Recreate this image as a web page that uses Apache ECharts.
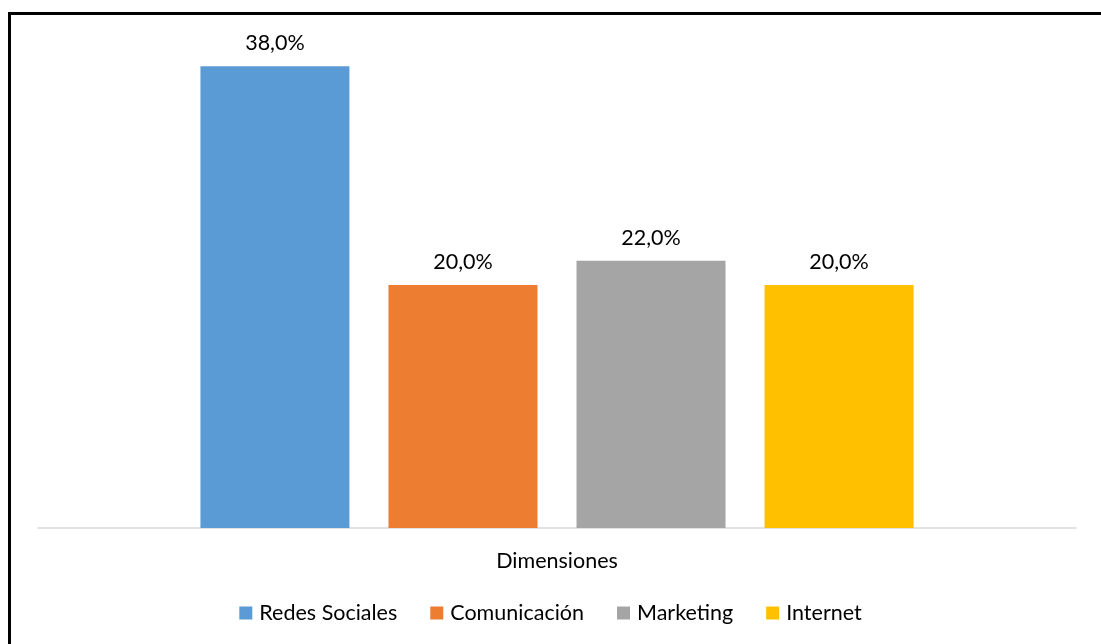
<!DOCTYPE html>
<html>
<head>
<meta charset="utf-8">
<script src="https://cdn.jsdelivr.net/npm/echarts@6/dist/echarts.min.js"></script>
<style>
  html, body { margin: 0; padding: 0; background: #fff; }
  #chart { width: 1101px; height: 644px; }
</style>
</head>
<body>
<div id="chart"></div>
<script>
// Share of each dimension (percent)
const categories = ['Dimensiones'];
const seriesNames = ['Redes Sociales', 'Comunicación', 'Marketing', 'Internet'];
const redesSociales = [38.0];
const comunicacion = [20.0];
const marketing = [22.0];
const internet = [20.0];
const seriesValues = [redesSociales, comunicacion, marketing, internet];
const colors = ['#5b9bd5', '#ed7d31', '#a5a5a5', '#ffc000'];

const FONT = 'Lato, "Open Sans", sans-serif';
const FS = 21.5;
const fmt = p => p.value.toFixed(1).replace('.', ',') + '%';

const chart = echarts.init(document.getElementById('chart'), null, { renderer: 'canvas' });
chart.setOption({
  animation: false,
  backgroundColor: '#ffffff',
  color: colors,
  textStyle: { fontFamily: FONT },
  graphic: [{
    type: 'rect',
    shape: { x: 9.5, y: 13.5, width: 1200, height: 700 },
    style: { fill: 'none', stroke: '#000', lineWidth: 3 },
    silent: true,
    z: 100
  }],
  grid: { left: 38, right: 25, top: 42, bottom: 116 },
  legend: {
    bottom: 15,
    left: 'center',
    itemWidth: 13,
    itemHeight: 13,
    itemGap: 33,
    icon: 'rect',
    textStyle: { fontFamily: FONT, fontSize: FS, color: '#000', padding: [0, 0, 0, 2] },
    data: seriesNames
  },
  xAxis: {
    type: 'category',
    data: categories,
    axisLine: { show: true, lineStyle: { color: '#d9d9d9', width: 1.5 } },
    axisTick: { show: false },
    axisLabel: { fontFamily: FONT, fontSize: FS, color: '#000', margin: 22 }
  },
  yAxis: {
    type: 'value',
    min: 0,
    max: 40,
    interval: 5,
    show: false,
    splitLine: { show: false }
  },
  series: seriesNames.map((name, i) => ({
    name,
    type: 'bar',
    data: seriesValues[i],
    barWidth: 149,
    barGap: '26.2%',
    itemStyle: { color: colors[i] },
    label: {
      show: true,
      position: 'top',
      distance: 12,
      formatter: fmt,
      fontFamily: FONT,
      fontSize: FS,
      color: '#000'
    }
  }))
});
</script>
</body>
</html>
